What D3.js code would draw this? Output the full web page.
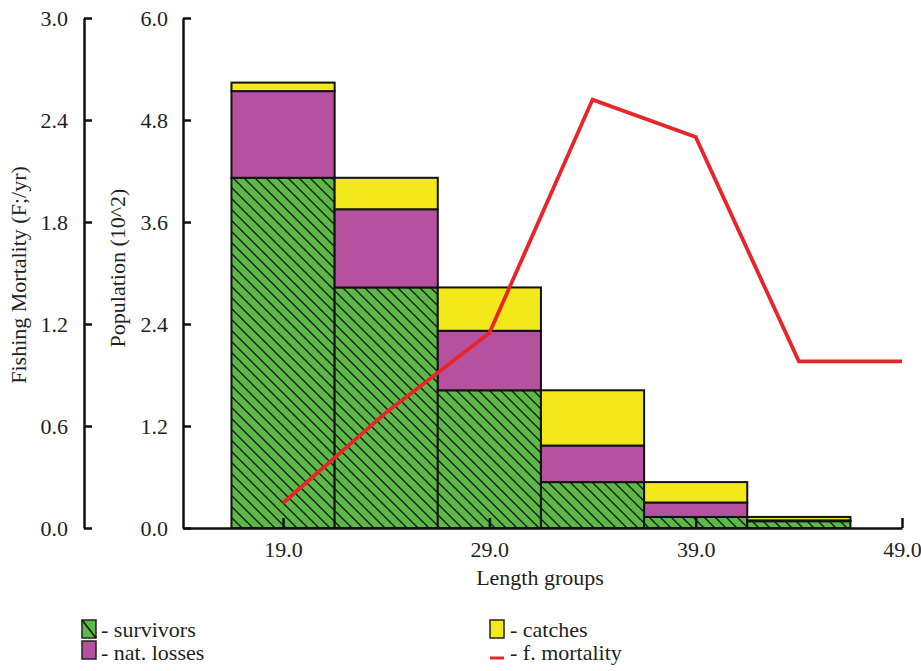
<!DOCTYPE html>
<html><head><meta charset="utf-8">
<script src="https://cdn.jsdelivr.net/npm/d3@7"></script>
<style>
body{margin:0;background:#fff}
text{font-family:"Liberation Serif","DejaVu Serif",serif;fill:#231f20}
</style>
</head><body>
<svg id="chart" width="921" height="671"></svg>
<script>
// Length-group bins (centres, width 5) and the stacked population (10^2)
const lengthGroups = [19, 24, 29, 34, 39, 44];
const survivors = [4.12, 2.83, 1.62, 0.54, 0.13, 0.08];
const natLosses = [1.02, 0.92, 0.70, 0.43, 0.17, 0.01];
const catches   = [0.10, 0.37, 0.51, 0.65, 0.24, 0.04];
// Fishing mortality F (per year) by length
const mortalityLengths = [19, 24, 29, 34, 39, 44, 49];
const fMortality = [0.147, 0.68, 1.147, 2.52, 2.30, 0.98, 0.98];
// Tick labels
const xTicks = [19, 29, 39, 49];
const popTicks = [0, 1.2, 2.4, 3.6, 4.8, 6.0];
const fTicks = [0, 0.6, 1.2, 1.8, 2.4, 3.0];
const binWidth = 5;

const svg = d3.select("#chart");
const GREEN = "#5cb946", PURPLE = "#b5519f", YELLOW = "#f2e81a", RED = "#e8262a";
const FS = "22px";

const x = d3.scaleLinear().domain([14.15, 49]).range([183, 902]);
const yPop = d3.scaleLinear().domain([0, 6]).range([528, 18]);
const yF = d3.scaleLinear().domain([0, 3]).range([528, 18]);

// diagonal hatch for survivors
const defs = svg.append("defs");
const pat = defs.append("pattern").attr("id", "hatch")
  .attr("patternUnits", "userSpaceOnUse").attr("width", 11).attr("height", 11);
pat.append("rect").attr("width", 11).attr("height", 11).attr("fill", GREEN);
pat.append("path").attr("d", "M-5.5,5.5 L5.5,16.5 M0,0 L11,11 M5.5,-5.5 L16.5,5.5")
  .attr("stroke", "#111").attr("stroke-width", 1.3);

// stacked bars
const layers = [
  {name: "survivors", values: survivors, fill: "url(#hatch)"},
  {name: "nat. losses", values: natLosses, fill: PURPLE},
  {name: "catches", values: catches, fill: YELLOW}
];
const barG = svg.append("g");
lengthGroups.forEach((L, i) => {
  let base = 0;
  layers.forEach(layer => {
    const v = layer.values[i];
    barG.append("rect")
      .attr("x", x(L - binWidth / 2))
      .attr("width", x(L + binWidth / 2) - x(L - binWidth / 2))
      .attr("y", yPop(base + v))
      .attr("height", yPop(base) - yPop(base + v))
      .attr("fill", layer.fill)
      .attr("stroke", "#111").attr("stroke-width", 2);
    base += v;
  });
});

// fishing mortality line
const line = d3.line().x(d => x(d[0])).y(d => yF(d[1]));
svg.append("path")
  .datum(mortalityLengths.map((L, i) => [L, fMortality[i]]))
  .attr("d", line)
  .attr("fill", "none").attr("stroke", RED).attr("stroke-width", 3.8)
  .attr("stroke-linejoin", "miter");

// axes
function styleAxis(g) {
  g.select(".domain").attr("stroke", "#111").attr("stroke-width", 2.5);
  g.selectAll(".tick line").attr("stroke", "#111").attr("stroke-width", 2.5);
  g.selectAll(".tick text").style("font-family", '"Liberation Serif",serif')
    .style("font-size", FS).attr("fill", "#231f20");
}
const fmt = d3.format(".1f");
svg.append("g").attr("transform", "translate(84,0)")
  .call(d3.axisLeft(yF).tickValues(fTicks).tickFormat(fmt).tickSizeInner(-8).tickSizeOuter(0).tickPadding(16))
  .call(styleAxis);
svg.append("g").attr("transform", "translate(183,0)")
  .call(d3.axisLeft(yPop).tickValues(popTicks).tickFormat(fmt).tickSizeInner(-8).tickSizeOuter(0).tickPadding(15))
  .call(styleAxis);
svg.append("g").attr("transform", "translate(0,528)")
  .call(d3.axisBottom(x).tickValues(xTicks).tickFormat(fmt).tickSizeInner(-10).tickSizeOuter(0).tickPadding(13))
  .call(styleAxis);

// axis titles
svg.append("text").attr("transform", "translate(26,275) rotate(-90)")
  .attr("text-anchor", "middle").style("font-size", FS).text("Fishing Mortality (F;/yr)");
svg.append("text").attr("transform", "translate(125,268) rotate(-90)")
  .attr("text-anchor", "middle").style("font-size", FS).text("Population (10^2)");
svg.append("text").attr("x", 540).attr("y", 585)
  .attr("text-anchor", "middle").style("font-size", FS).text("Length groups");

// legend
const lg = svg.append("g");
function swatch(xp, yp, fill, diag) {
  lg.append("rect").attr("x", xp).attr("y", yp).attr("width", 14).attr("height", 18)
    .attr("fill", fill).attr("stroke", "#222").attr("stroke-width", 1.5);
  if (diag) lg.append("line").attr("x1", xp).attr("y1", yp).attr("x2", xp + 14).attr("y2", yp + 18)
    .attr("stroke", "#111").attr("stroke-width", 1.5);
}
swatch(82, 620, GREEN, true);
swatch(82, 641, PURPLE, false);
swatch(490, 620, YELLOW, false);
lg.append("line").attr("x1", 490).attr("x2", 504).attr("y1", 658).attr("y2", 658)
  .attr("stroke", RED).attr("stroke-width", 3);
const legendText = [
  [101, 637, "- survivors"], [101, 660, "- nat. losses"],
  [510, 637, "- catches"], [510, 660, "- f. mortality"]
];
legendText.forEach(d => lg.append("text").attr("x", d[0]).attr("y", d[1])
  .style("font-size", FS).text(d[2]));
</script>
</body></html>
